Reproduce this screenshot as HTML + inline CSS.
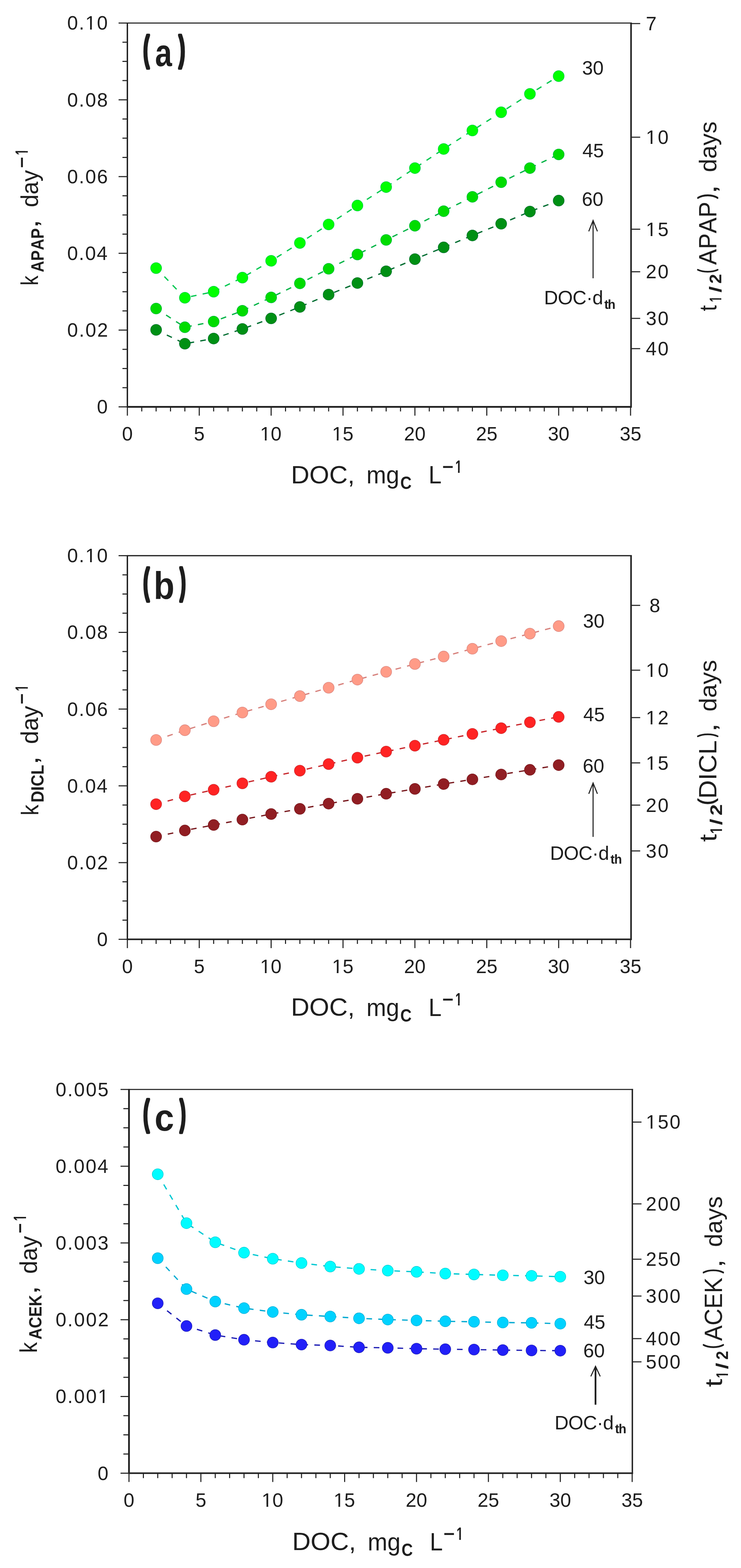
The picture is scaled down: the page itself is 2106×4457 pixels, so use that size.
<!DOCTYPE html>
<html><head><meta charset="utf-8"><title>DOC dependence of k and t1/2 for APAP, DICL, ACEK</title>
<style>
html,body{margin:0;padding:0;background:#fff;}
svg{display:block;}
text{font-family:'Liberation Sans', Arial, Helvetica, sans-serif;fill:#1e1e1e;font-kerning:none;}
</style></head>
<body>
<svg width="2106" height="4457" viewBox="0 0 2106 4457">
<rect width="2106" height="4457" fill="#fff"/>
<g id="panel-a">
<polyline points="443.7,762.1 525.4,846.4 607.2,829.1 688.9,789.2 770.6,741.4 852.3,690.6 934.0,638.0 1015.8,584.2 1097.5,531.8 1179.2,477.8 1260.9,423.5 1342.6,370.9 1424.4,319.1 1506.1,266.9 1587.8,216.4" fill="none" stroke="#00c850" stroke-width="3.6" stroke-dasharray="16 17.8"/>
<polyline points="443.7,877.0 525.4,930.2 607.2,914.0 688.9,883.4 770.6,845.4 852.3,805.5 934.0,764.0 1015.8,723.4 1097.5,682.0 1179.2,641.7 1260.9,600.3 1342.6,559.5 1424.4,518.0 1506.1,477.8 1587.8,439.0" fill="none" stroke="#00b446" stroke-width="3.6" stroke-dasharray="16 17.8"/>
<polyline points="443.7,937.6 525.4,977.0 607.2,962.3 688.9,935.1 770.6,905.0 852.3,872.5 934.0,837.4 1015.8,804.5 1097.5,771.1 1179.2,736.6 1260.9,703.2 1342.6,669.3 1424.4,636.0 1506.1,601.4 1587.8,570.2" fill="none" stroke="#006e32" stroke-width="3.6" stroke-dasharray="16 17.8"/>
<circle cx="443.7" cy="762.1" r="15.7" fill="#00ff00" stroke="#00c850" stroke-width="1.3"/>
<circle cx="525.4" cy="846.4" r="15.7" fill="#00ff00" stroke="#00c850" stroke-width="1.3"/>
<circle cx="607.2" cy="829.1" r="15.7" fill="#00ff00" stroke="#00c850" stroke-width="1.3"/>
<circle cx="688.9" cy="789.2" r="15.7" fill="#00ff00" stroke="#00c850" stroke-width="1.3"/>
<circle cx="770.6" cy="741.4" r="15.7" fill="#00ff00" stroke="#00c850" stroke-width="1.3"/>
<circle cx="852.3" cy="690.6" r="15.7" fill="#00ff00" stroke="#00c850" stroke-width="1.3"/>
<circle cx="934.0" cy="638.0" r="15.7" fill="#00ff00" stroke="#00c850" stroke-width="1.3"/>
<circle cx="1015.8" cy="584.2" r="15.7" fill="#00ff00" stroke="#00c850" stroke-width="1.3"/>
<circle cx="1097.5" cy="531.8" r="15.7" fill="#00ff00" stroke="#00c850" stroke-width="1.3"/>
<circle cx="1179.2" cy="477.8" r="15.7" fill="#00ff00" stroke="#00c850" stroke-width="1.3"/>
<circle cx="1260.9" cy="423.5" r="15.7" fill="#00ff00" stroke="#00c850" stroke-width="1.3"/>
<circle cx="1342.6" cy="370.9" r="15.7" fill="#00ff00" stroke="#00c850" stroke-width="1.3"/>
<circle cx="1424.4" cy="319.1" r="15.7" fill="#00ff00" stroke="#00c850" stroke-width="1.3"/>
<circle cx="1506.1" cy="266.9" r="15.7" fill="#00ff00" stroke="#00c850" stroke-width="1.3"/>
<circle cx="1587.8" cy="216.4" r="15.7" fill="#00ff00" stroke="#00c850" stroke-width="1.3"/>
<circle cx="443.7" cy="877.0" r="15.7" fill="#00dc00" stroke="#00b446" stroke-width="1.3"/>
<circle cx="525.4" cy="930.2" r="15.7" fill="#00dc00" stroke="#00b446" stroke-width="1.3"/>
<circle cx="607.2" cy="914.0" r="15.7" fill="#00dc00" stroke="#00b446" stroke-width="1.3"/>
<circle cx="688.9" cy="883.4" r="15.7" fill="#00dc00" stroke="#00b446" stroke-width="1.3"/>
<circle cx="770.6" cy="845.4" r="15.7" fill="#00dc00" stroke="#00b446" stroke-width="1.3"/>
<circle cx="852.3" cy="805.5" r="15.7" fill="#00dc00" stroke="#00b446" stroke-width="1.3"/>
<circle cx="934.0" cy="764.0" r="15.7" fill="#00dc00" stroke="#00b446" stroke-width="1.3"/>
<circle cx="1015.8" cy="723.4" r="15.7" fill="#00dc00" stroke="#00b446" stroke-width="1.3"/>
<circle cx="1097.5" cy="682.0" r="15.7" fill="#00dc00" stroke="#00b446" stroke-width="1.3"/>
<circle cx="1179.2" cy="641.7" r="15.7" fill="#00dc00" stroke="#00b446" stroke-width="1.3"/>
<circle cx="1260.9" cy="600.3" r="15.7" fill="#00dc00" stroke="#00b446" stroke-width="1.3"/>
<circle cx="1342.6" cy="559.5" r="15.7" fill="#00dc00" stroke="#00b446" stroke-width="1.3"/>
<circle cx="1424.4" cy="518.0" r="15.7" fill="#00dc00" stroke="#00b446" stroke-width="1.3"/>
<circle cx="1506.1" cy="477.8" r="15.7" fill="#00dc00" stroke="#00b446" stroke-width="1.3"/>
<circle cx="1587.8" cy="439.0" r="15.7" fill="#00dc00" stroke="#00b446" stroke-width="1.3"/>
<circle cx="443.7" cy="937.6" r="15.7" fill="#009014" stroke="#006e32" stroke-width="1.3"/>
<circle cx="525.4" cy="977.0" r="15.7" fill="#009014" stroke="#006e32" stroke-width="1.3"/>
<circle cx="607.2" cy="962.3" r="15.7" fill="#009014" stroke="#006e32" stroke-width="1.3"/>
<circle cx="688.9" cy="935.1" r="15.7" fill="#009014" stroke="#006e32" stroke-width="1.3"/>
<circle cx="770.6" cy="905.0" r="15.7" fill="#009014" stroke="#006e32" stroke-width="1.3"/>
<circle cx="852.3" cy="872.5" r="15.7" fill="#009014" stroke="#006e32" stroke-width="1.3"/>
<circle cx="934.0" cy="837.4" r="15.7" fill="#009014" stroke="#006e32" stroke-width="1.3"/>
<circle cx="1015.8" cy="804.5" r="15.7" fill="#009014" stroke="#006e32" stroke-width="1.3"/>
<circle cx="1097.5" cy="771.1" r="15.7" fill="#009014" stroke="#006e32" stroke-width="1.3"/>
<circle cx="1179.2" cy="736.6" r="15.7" fill="#009014" stroke="#006e32" stroke-width="1.3"/>
<circle cx="1260.9" cy="703.2" r="15.7" fill="#009014" stroke="#006e32" stroke-width="1.3"/>
<circle cx="1342.6" cy="669.3" r="15.7" fill="#009014" stroke="#006e32" stroke-width="1.3"/>
<circle cx="1424.4" cy="636.0" r="15.7" fill="#009014" stroke="#006e32" stroke-width="1.3"/>
<circle cx="1506.1" cy="601.4" r="15.7" fill="#009014" stroke="#006e32" stroke-width="1.3"/>
<circle cx="1587.8" cy="570.2" r="15.7" fill="#009014" stroke="#006e32" stroke-width="1.3"/>
<path d="M360.4,65.5H1795.5" stroke="#222" stroke-width="3.0" fill="none"/>
<path d="M362.0,64.0V1158.5" stroke="#222" stroke-width="4.0" fill="none"/>
<path d="M360.5,1156.5H1795.5" stroke="#222" stroke-width="5.0" fill="none"/>
<path d="M1793.5,64.0V1158.5" stroke="#222" stroke-width="4.5" fill="none"/>
<path d="M337.0,1156.5H362.0M348.0,1102.0H362.0M348.0,1047.4H362.0M348.0,992.9H362.0M337.0,938.3H362.0M348.0,883.8H362.0M348.0,829.2H362.0M348.0,774.6H362.0M337.0,720.1H362.0M348.0,665.5H362.0M348.0,611.0H362.0M348.0,556.5H362.0M337.0,501.9H362.0M348.0,447.4H362.0M348.0,392.8H362.0M348.0,338.2H362.0M337.0,283.7H362.0M348.0,229.1H362.0M348.0,174.6H362.0M348.0,120.0H362.0M337.0,65.5H362.0M362.0,1156.5V1181.5M402.9,1156.5V1169.5M443.7,1156.5V1169.5M484.6,1156.5V1169.5M525.4,1156.5V1169.5M566.3,1156.5V1181.5M607.2,1156.5V1169.5M648.0,1156.5V1169.5M688.9,1156.5V1169.5M729.7,1156.5V1169.5M770.6,1156.5V1181.5M811.5,1156.5V1169.5M852.3,1156.5V1169.5M893.2,1156.5V1169.5M934.0,1156.5V1169.5M974.9,1156.5V1181.5M1015.8,1156.5V1169.5M1056.6,1156.5V1169.5M1097.5,1156.5V1169.5M1138.3,1156.5V1169.5M1179.2,1156.5V1181.5M1220.1,1156.5V1169.5M1260.9,1156.5V1169.5M1301.8,1156.5V1169.5M1342.6,1156.5V1169.5M1383.5,1156.5V1181.5M1424.4,1156.5V1169.5M1465.2,1156.5V1169.5M1506.1,1156.5V1169.5M1546.9,1156.5V1169.5M1587.8,1156.5V1181.5M1628.7,1156.5V1169.5M1669.5,1156.5V1169.5M1710.4,1156.5V1169.5M1751.2,1156.5V1169.5M1792.1,1156.5V1181.5M1793.5,67H1819.5M1793.5,390H1819.5M1793.5,651.6H1819.5M1793.5,772.5H1819.5M1793.5,905H1819.5M1793.5,991H1819.5" stroke="#222" stroke-width="3.0" fill="none"/>
<text x="275.4" y="1175.4" font-size="55">0</text>
<text x="190.9" y="957.2" font-size="55" letter-spacing="2.96">0.02</text>
<text x="190.9" y="739.0" font-size="55" letter-spacing="2.57">0.04</text>
<text x="190.9" y="520.8" font-size="55" letter-spacing="2.84">0.06</text>
<text x="190.9" y="302.6" font-size="55" letter-spacing="2.83">0.08</text>
<text x="190.9" y="84.4" font-size="55" letter-spacing="2.75">0.10</text>
<text x="346.7" y="1252.0" font-size="55">0</text>
<text x="551.1" y="1252.0" font-size="55">5</text>
<text x="739.0" y="1252.0" font-size="55">10</text>
<text x="943.4" y="1252.0" font-size="55">15</text>
<text x="1148.3" y="1252.0" font-size="55">20</text>
<text x="1352.7" y="1252.0" font-size="55">25</text>
<text x="1557.2" y="1252.0" font-size="55">30</text>
<text x="1761.6" y="1252.0" font-size="55">35</text>
<text x="1835.5" y="85.9" font-size="55">7</text>
<text x="1835.5" y="408.9" font-size="55" letter-spacing="3.30">10</text>
<text x="1835.5" y="670.5" font-size="55" letter-spacing="3.30">15</text>
<text x="1835.5" y="791.4" font-size="55" letter-spacing="3.30">20</text>
<text x="1835.5" y="923.9" font-size="55" letter-spacing="3.30">30</text>
<text x="1835.5" y="1009.9" font-size="55" letter-spacing="3.30">40</text>
<text x="1654.4" y="211.9" font-size="55">30</text>
<text x="1655.2" y="446.9" font-size="55">45</text>
<text x="1653.7" y="584.9" font-size="55">60</text>
<path d="M1685.6,628.3V791.0" stroke="#222" stroke-width="3" fill="none"/>
<path d="M1673.3,657.6L1685.6,626.8L1697.9,657.6" stroke="#222" stroke-width="3" fill="none" stroke-linejoin="miter"/>
<text x="1546.3" y="865.1" font-size="55" letter-spacing="-0.77">DOC·d</text>
<text x="1717.6" y="878.3" font-size="36" font-weight="bold" letter-spacing="-2.31">th</text>
<text x="826.9" y="1373.7" font-size="70" textLength="181.3" lengthAdjust="spacingAndGlyphs">DOC,</text>
<text x="1041.5" y="1374.0" font-size="70" textLength="93.3" lengthAdjust="spacingAndGlyphs">mg</text>
<text x="1137.8" y="1390.0" font-size="50" font-weight="bold" textLength="32.1" lengthAdjust="spacingAndGlyphs">C</text>
<text x="1218.0" y="1374.0" font-size="70" textLength="37.0" lengthAdjust="spacingAndGlyphs">L</text>
<text x="1256.9" y="1344.0" font-size="50" font-weight="bold" textLength="31.9" lengthAdjust="spacingAndGlyphs">−</text>
<text x="1293.9" y="1344.0" font-size="50" font-weight="bold" textLength="18.6" lengthAdjust="spacingAndGlyphs">1</text>
<text transform="rotate(-90)" x="-811.5" y="107.9" font-size="68" textLength="28.1" lengthAdjust="spacingAndGlyphs">k</text>
<text transform="rotate(-90)" x="-773.9" y="123.8" font-size="50" font-weight="bold" textLength="125.1" lengthAdjust="spacingAndGlyphs">APAP</text>
<text transform="rotate(-90)" x="-649.0" y="107.9" font-size="68" textLength="25.5" lengthAdjust="spacingAndGlyphs">,</text>
<text transform="rotate(-90)" x="-589.1" y="107.6" font-size="68" textLength="105.7" lengthAdjust="spacingAndGlyphs">day</text>
<text transform="rotate(-90)" x="-477.5" y="79.3" font-size="50" font-weight="bold" textLength="31.6" lengthAdjust="spacingAndGlyphs">−</text>
<text transform="rotate(-90)" x="-440.6" y="79.3" font-size="50" font-weight="bold" textLength="16.7" lengthAdjust="spacingAndGlyphs">1</text>
<text transform="rotate(-90)" x="-884.4" y="2035.7" font-size="68" textLength="17.0" lengthAdjust="spacingAndGlyphs">t</text>
<text transform="rotate(-90)" x="-858.6" y="2050.1" font-size="48" font-weight="bold" textLength="16.3" lengthAdjust="spacingAndGlyphs">1</text>
<text transform="rotate(-90)" x="-831.5" y="2050.1" font-size="48" font-weight="bold" textLength="18.0" lengthAdjust="spacingAndGlyphs">/</text>
<text transform="rotate(-90)" x="-806.3" y="2050.1" font-size="48" font-weight="bold" textLength="27.5" lengthAdjust="spacingAndGlyphs">2</text>
<text transform="rotate(-90)" x="-753.0" y="2035.7" font-size="70" textLength="179.6" lengthAdjust="spacingAndGlyphs">APAP</text>
<text transform="rotate(-90)" x="-551.2" y="2035.7" font-size="70" textLength="26.3" lengthAdjust="spacingAndGlyphs">,</text>
<text transform="rotate(-90)" x="-489.2" y="2035.7" font-size="68" textLength="143.9" lengthAdjust="spacingAndGlyphs">days</text>
<text transform="translate(2027.42,775.66) rotate(-90) scale(0.3168,0.6076)" font-size="100" stroke="#1e1e1e" stroke-width="5.68" stroke-linejoin="round">(</text>
<text transform="translate(2027.44,564.74) rotate(-90) scale(0.4149,0.6121)" font-size="100" stroke="#1e1e1e" stroke-width="4.34" stroke-linejoin="round">)</text>
<text transform="translate(407.37,172.71) scale(0.5173,0.9983)" font-size="100" font-weight="bold" stroke="#1e1e1e" stroke-width="8.70" stroke-linejoin="round">(</text>
<text transform="translate(440.67,188.03) scale(0.8646,1.0915)" font-size="100" font-weight="bold">a</text>
<text transform="translate(507.90,172.77) scale(0.5386,1.0006)" font-size="100" font-weight="bold" stroke="#1e1e1e" stroke-width="8.36" stroke-linejoin="round">)</text>
</g>
<g id="panel-b">
<polyline points="443.7,2103.4 525.4,2075.7 607.2,2050.1 688.9,2025.4 770.6,2001.8 852.3,1978.6 934.0,1954.9 1015.8,1931.8 1097.5,1909.6 1179.2,1887.4 1260.9,1866.2 1342.6,1844.0 1424.4,1822.3 1506.1,1801.1 1587.8,1779.7" fill="none" stroke="#d7827d" stroke-width="3.6" stroke-dasharray="16 17.8"/>
<polyline points="443.7,2285.8 525.4,2263.6 607.2,2244.9 688.9,2226.6 770.6,2207.9 852.3,2190.6 934.0,2171.9 1015.8,2153.6 1097.5,2136.4 1179.2,2119.6 1260.9,2102.9 1342.6,2086.1 1424.4,2069.8 1506.1,2053.1 1587.8,2037.7" fill="none" stroke="#c8282d" stroke-width="3.6" stroke-dasharray="16 17.8"/>
<polyline points="443.7,2378.0 525.4,2360.7 607.2,2345.0 688.9,2329.7 770.6,2313.9 852.3,2299.1 934.0,2284.3 1015.8,2270.5 1097.5,2256.2 1179.2,2242.4 1260.9,2228.6 1342.6,2215.3 1424.4,2201.5 1506.1,2188.2 1587.8,2174.8" fill="none" stroke="#78191e" stroke-width="3.6" stroke-dasharray="16 17.8"/>
<circle cx="443.7" cy="2103.4" r="15.7" fill="#ff9b87" stroke="#d7827d" stroke-width="1.3"/>
<circle cx="525.4" cy="2075.7" r="15.7" fill="#ff9b87" stroke="#d7827d" stroke-width="1.3"/>
<circle cx="607.2" cy="2050.1" r="15.7" fill="#ff9b87" stroke="#d7827d" stroke-width="1.3"/>
<circle cx="688.9" cy="2025.4" r="15.7" fill="#ff9b87" stroke="#d7827d" stroke-width="1.3"/>
<circle cx="770.6" cy="2001.8" r="15.7" fill="#ff9b87" stroke="#d7827d" stroke-width="1.3"/>
<circle cx="852.3" cy="1978.6" r="15.7" fill="#ff9b87" stroke="#d7827d" stroke-width="1.3"/>
<circle cx="934.0" cy="1954.9" r="15.7" fill="#ff9b87" stroke="#d7827d" stroke-width="1.3"/>
<circle cx="1015.8" cy="1931.8" r="15.7" fill="#ff9b87" stroke="#d7827d" stroke-width="1.3"/>
<circle cx="1097.5" cy="1909.6" r="15.7" fill="#ff9b87" stroke="#d7827d" stroke-width="1.3"/>
<circle cx="1179.2" cy="1887.4" r="15.7" fill="#ff9b87" stroke="#d7827d" stroke-width="1.3"/>
<circle cx="1260.9" cy="1866.2" r="15.7" fill="#ff9b87" stroke="#d7827d" stroke-width="1.3"/>
<circle cx="1342.6" cy="1844.0" r="15.7" fill="#ff9b87" stroke="#d7827d" stroke-width="1.3"/>
<circle cx="1424.4" cy="1822.3" r="15.7" fill="#ff9b87" stroke="#d7827d" stroke-width="1.3"/>
<circle cx="1506.1" cy="1801.1" r="15.7" fill="#ff9b87" stroke="#d7827d" stroke-width="1.3"/>
<circle cx="1587.8" cy="1779.7" r="15.7" fill="#ff9b87" stroke="#d7827d" stroke-width="1.3"/>
<circle cx="443.7" cy="2285.8" r="15.7" fill="#ff2323" stroke="#c8282d" stroke-width="1.3"/>
<circle cx="525.4" cy="2263.6" r="15.7" fill="#ff2323" stroke="#c8282d" stroke-width="1.3"/>
<circle cx="607.2" cy="2244.9" r="15.7" fill="#ff2323" stroke="#c8282d" stroke-width="1.3"/>
<circle cx="688.9" cy="2226.6" r="15.7" fill="#ff2323" stroke="#c8282d" stroke-width="1.3"/>
<circle cx="770.6" cy="2207.9" r="15.7" fill="#ff2323" stroke="#c8282d" stroke-width="1.3"/>
<circle cx="852.3" cy="2190.6" r="15.7" fill="#ff2323" stroke="#c8282d" stroke-width="1.3"/>
<circle cx="934.0" cy="2171.9" r="15.7" fill="#ff2323" stroke="#c8282d" stroke-width="1.3"/>
<circle cx="1015.8" cy="2153.6" r="15.7" fill="#ff2323" stroke="#c8282d" stroke-width="1.3"/>
<circle cx="1097.5" cy="2136.4" r="15.7" fill="#ff2323" stroke="#c8282d" stroke-width="1.3"/>
<circle cx="1179.2" cy="2119.6" r="15.7" fill="#ff2323" stroke="#c8282d" stroke-width="1.3"/>
<circle cx="1260.9" cy="2102.9" r="15.7" fill="#ff2323" stroke="#c8282d" stroke-width="1.3"/>
<circle cx="1342.6" cy="2086.1" r="15.7" fill="#ff2323" stroke="#c8282d" stroke-width="1.3"/>
<circle cx="1424.4" cy="2069.8" r="15.7" fill="#ff2323" stroke="#c8282d" stroke-width="1.3"/>
<circle cx="1506.1" cy="2053.1" r="15.7" fill="#ff2323" stroke="#c8282d" stroke-width="1.3"/>
<circle cx="1587.8" cy="2037.7" r="15.7" fill="#ff2323" stroke="#c8282d" stroke-width="1.3"/>
<circle cx="443.7" cy="2378.0" r="15.7" fill="#911e23" stroke="#78191e" stroke-width="1.3"/>
<circle cx="525.4" cy="2360.7" r="15.7" fill="#911e23" stroke="#78191e" stroke-width="1.3"/>
<circle cx="607.2" cy="2345.0" r="15.7" fill="#911e23" stroke="#78191e" stroke-width="1.3"/>
<circle cx="688.9" cy="2329.7" r="15.7" fill="#911e23" stroke="#78191e" stroke-width="1.3"/>
<circle cx="770.6" cy="2313.9" r="15.7" fill="#911e23" stroke="#78191e" stroke-width="1.3"/>
<circle cx="852.3" cy="2299.1" r="15.7" fill="#911e23" stroke="#78191e" stroke-width="1.3"/>
<circle cx="934.0" cy="2284.3" r="15.7" fill="#911e23" stroke="#78191e" stroke-width="1.3"/>
<circle cx="1015.8" cy="2270.5" r="15.7" fill="#911e23" stroke="#78191e" stroke-width="1.3"/>
<circle cx="1097.5" cy="2256.2" r="15.7" fill="#911e23" stroke="#78191e" stroke-width="1.3"/>
<circle cx="1179.2" cy="2242.4" r="15.7" fill="#911e23" stroke="#78191e" stroke-width="1.3"/>
<circle cx="1260.9" cy="2228.6" r="15.7" fill="#911e23" stroke="#78191e" stroke-width="1.3"/>
<circle cx="1342.6" cy="2215.3" r="15.7" fill="#911e23" stroke="#78191e" stroke-width="1.3"/>
<circle cx="1424.4" cy="2201.5" r="15.7" fill="#911e23" stroke="#78191e" stroke-width="1.3"/>
<circle cx="1506.1" cy="2188.2" r="15.7" fill="#911e23" stroke="#78191e" stroke-width="1.3"/>
<circle cx="1587.8" cy="2174.8" r="15.7" fill="#911e23" stroke="#78191e" stroke-width="1.3"/>
<path d="M360.4,1579.4H1795.5" stroke="#222" stroke-width="3.5" fill="none"/>
<path d="M362.0,1577.9V2672.0" stroke="#222" stroke-width="4.0" fill="none"/>
<path d="M360.5,2670.0H1795.5" stroke="#222" stroke-width="4.5" fill="none"/>
<path d="M1793.5,1577.9V2672.0" stroke="#222" stroke-width="4.5" fill="none"/>
<path d="M337.0,2670.0H362.0M348.0,2615.5H362.0M348.0,2560.9H362.0M348.0,2506.4H362.0M337.0,2451.9H362.0M348.0,2397.3H362.0M348.0,2342.8H362.0M348.0,2288.3H362.0M337.0,2233.8H362.0M348.0,2179.2H362.0M348.0,2124.7H362.0M348.0,2070.2H362.0M337.0,2015.6H362.0M348.0,1961.1H362.0M348.0,1906.6H362.0M348.0,1852.1H362.0M337.0,1797.5H362.0M348.0,1743.0H362.0M348.0,1688.5H362.0M348.0,1633.9H362.0M337.0,1579.4H362.0M362.0,2670.0V2695.0M402.9,2670.0V2683.0M443.7,2670.0V2683.0M484.6,2670.0V2683.0M525.4,2670.0V2683.0M566.3,2670.0V2695.0M607.2,2670.0V2683.0M648.0,2670.0V2683.0M688.9,2670.0V2683.0M729.7,2670.0V2683.0M770.6,2670.0V2695.0M811.5,2670.0V2683.0M852.3,2670.0V2683.0M893.2,2670.0V2683.0M934.0,2670.0V2683.0M974.9,2670.0V2695.0M1015.8,2670.0V2683.0M1056.6,2670.0V2683.0M1097.5,2670.0V2683.0M1138.3,2670.0V2683.0M1179.2,2670.0V2695.0M1220.1,2670.0V2683.0M1260.9,2670.0V2683.0M1301.8,2670.0V2683.0M1342.6,2670.0V2683.0M1383.5,2670.0V2695.0M1424.4,2670.0V2683.0M1465.2,2670.0V2683.0M1506.1,2670.0V2683.0M1546.9,2670.0V2683.0M1587.8,2670.0V2695.0M1628.7,2670.0V2683.0M1669.5,2670.0V2683.0M1710.4,2670.0V2683.0M1751.2,2670.0V2683.0M1792.1,2670.0V2695.0M1793.5,1720.7H1819.5M1793.5,1904.9H1819.5M1793.5,2039.7H1819.5M1793.5,2168.6H1819.5M1793.5,2288.6H1819.5M1793.5,2418.8H1819.5" stroke="#222" stroke-width="3.0" fill="none"/>
<text x="275.4" y="2688.9" font-size="55">0</text>
<text x="190.9" y="2470.8" font-size="55" letter-spacing="2.96">0.02</text>
<text x="190.9" y="2252.7" font-size="55" letter-spacing="2.57">0.04</text>
<text x="190.9" y="2034.5" font-size="55" letter-spacing="2.84">0.06</text>
<text x="190.9" y="1816.4" font-size="55" letter-spacing="2.83">0.08</text>
<text x="190.9" y="1598.3" font-size="55" letter-spacing="2.75">0.10</text>
<text x="346.7" y="2765.5" font-size="55">0</text>
<text x="551.1" y="2765.5" font-size="55">5</text>
<text x="739.0" y="2765.5" font-size="55">10</text>
<text x="943.4" y="2765.5" font-size="55">15</text>
<text x="1148.3" y="2765.5" font-size="55">20</text>
<text x="1352.7" y="2765.5" font-size="55">25</text>
<text x="1557.2" y="2765.5" font-size="55">30</text>
<text x="1761.6" y="2765.5" font-size="55">35</text>
<text x="1845.8" y="1739.6" font-size="55">8</text>
<text x="1835.5" y="1923.8" font-size="55" letter-spacing="3.30">10</text>
<text x="1835.5" y="2058.6" font-size="55" letter-spacing="3.30">12</text>
<text x="1835.5" y="2187.5" font-size="55" letter-spacing="3.30">15</text>
<text x="1835.5" y="2307.5" font-size="55" letter-spacing="3.30">20</text>
<text x="1835.5" y="2437.7" font-size="55" letter-spacing="3.30">30</text>
<text x="1656.9" y="1783.9" font-size="55">30</text>
<text x="1657.7" y="2050.3" font-size="55">45</text>
<text x="1656.2" y="2195.9" font-size="55">60</text>
<path d="M1685.6,2227.3V2378.8" stroke="#222" stroke-width="3" fill="none"/>
<path d="M1673.3,2256.4L1685.6,2225.8L1697.9,2256.4" stroke="#222" stroke-width="3" fill="none" stroke-linejoin="miter"/>
<text x="1563.2" y="2444.2" font-size="55" letter-spacing="-0.77">DOC·d</text>
<text x="1735.1" y="2455.4" font-size="36" font-weight="bold" letter-spacing="-1.21">th</text>
<text x="826.9" y="2887.2" font-size="70" textLength="181.3" lengthAdjust="spacingAndGlyphs">DOC,</text>
<text x="1041.5" y="2887.5" font-size="70" textLength="93.3" lengthAdjust="spacingAndGlyphs">mg</text>
<text x="1137.8" y="2903.5" font-size="50" font-weight="bold" textLength="32.1" lengthAdjust="spacingAndGlyphs">C</text>
<text x="1218.0" y="2887.5" font-size="70" textLength="37.0" lengthAdjust="spacingAndGlyphs">L</text>
<text x="1256.9" y="2857.5" font-size="50" font-weight="bold" textLength="31.9" lengthAdjust="spacingAndGlyphs">−</text>
<text x="1293.9" y="2857.5" font-size="50" font-weight="bold" textLength="18.6" lengthAdjust="spacingAndGlyphs">1</text>
<text transform="rotate(-90)" x="-2318.0" y="109.4" font-size="68" textLength="30.8" lengthAdjust="spacingAndGlyphs">k</text>
<text transform="rotate(-90)" x="-2280.9" y="123.8" font-size="50" font-weight="bold" textLength="106.8" lengthAdjust="spacingAndGlyphs">DICL</text>
<text transform="rotate(-90)" x="-2174.3" y="107.9" font-size="68" textLength="25.5" lengthAdjust="spacingAndGlyphs">,</text>
<text transform="rotate(-90)" x="-2114.8" y="107.6" font-size="68" textLength="108.6" lengthAdjust="spacingAndGlyphs">day</text>
<text transform="rotate(-90)" x="-2002.0" y="79.3" font-size="50" font-weight="bold" textLength="31.1" lengthAdjust="spacingAndGlyphs">−</text>
<text transform="rotate(-90)" x="-1964.3" y="79.3" font-size="50" font-weight="bold" textLength="16.7" lengthAdjust="spacingAndGlyphs">1</text>
<text transform="rotate(-90)" x="-2392.9" y="2035.9" font-size="68" textLength="22.0" lengthAdjust="spacingAndGlyphs">t</text>
<text transform="rotate(-90)" x="-2369.9" y="2052.3" font-size="48" font-weight="bold" textLength="19.6" lengthAdjust="spacingAndGlyphs">1</text>
<text transform="rotate(-90)" x="-2345.3" y="2052.3" font-size="48" font-weight="bold" textLength="18.0" lengthAdjust="spacingAndGlyphs">/</text>
<text transform="rotate(-90)" x="-2318.0" y="2052.3" font-size="48" font-weight="bold" textLength="32.0" lengthAdjust="spacingAndGlyphs">2</text>
<text transform="rotate(-90)" x="-2270.3" y="2035.9" font-size="70" textLength="166.1" lengthAdjust="spacingAndGlyphs">DICL</text>
<text transform="rotate(-90)" x="-2081.2" y="2035.9" font-size="70" textLength="26.3" lengthAdjust="spacingAndGlyphs">,</text>
<text transform="rotate(-90)" x="-2022.4" y="2035.9" font-size="68" textLength="146.7" lengthAdjust="spacingAndGlyphs">days</text>
<text transform="translate(2027.21,2288.21) rotate(-90) scale(0.5507,0.6166)" font-size="100" stroke="#1e1e1e" stroke-width="3.27" stroke-linejoin="round">(</text>
<text transform="translate(2026.89,2094.48) rotate(-90) scale(0.3130,0.6042)" font-size="100" stroke="#1e1e1e" stroke-width="5.75" stroke-linejoin="round">)</text>
<text transform="translate(407.37,1688.45) scale(0.5173,1.0212)" font-size="100" font-weight="bold" stroke="#1e1e1e" stroke-width="8.70" stroke-linejoin="round">(</text>
<text transform="translate(436.83,1701.73) scale(0.9664,1.1003)" font-size="100" font-weight="bold">b</text>
<text transform="translate(511.20,1688.38) scale(0.4925,1.0182)" font-size="100" font-weight="bold" stroke="#1e1e1e" stroke-width="9.14" stroke-linejoin="round">)</text>
</g>
<g id="panel-c">
<polyline points="448.3,3337.8 530.0,3476.8 611.8,3531.1 693.5,3560.7 775.2,3577.9 856.9,3590.2 938.6,3600.1 1020.4,3606.8 1102.1,3611.7 1183.8,3615.2 1265.5,3620.1 1347.2,3622.6 1429.0,3625.0 1510.7,3626.5 1592.4,3629.0" fill="none" stroke="#00c8d2" stroke-width="3.6" stroke-dasharray="16 17.8"/>
<polyline points="448.3,3576.4 530.0,3664.2 611.8,3699.7 693.5,3718.4 775.2,3729.3 856.9,3737.2 938.6,3742.1 1020.4,3747.3 1102.1,3750.8 1183.8,3753.3 1265.5,3755.7 1347.2,3757.2 1429.0,3759.2 1510.7,3760.2 1592.4,3762.5" fill="none" stroke="#00aad2" stroke-width="3.6" stroke-dasharray="16 17.8"/>
<polyline points="448.3,3704.6 530.0,3769.2 611.8,3794.9 693.5,3808.2 775.2,3816.1 856.9,3822.0 938.6,3824.5 1020.4,3829.7 1102.1,3831.2 1183.8,3833.6 1265.5,3835.1 1347.2,3836.1 1429.0,3837.6 1510.7,3838.6 1592.4,3839.3" fill="none" stroke="#1e1eb4" stroke-width="3.6" stroke-dasharray="16 17.8"/>
<circle cx="448.3" cy="3337.8" r="15.7" fill="#00fcff" stroke="#00c8d2" stroke-width="1.3"/>
<circle cx="530.0" cy="3476.8" r="15.7" fill="#00fcff" stroke="#00c8d2" stroke-width="1.3"/>
<circle cx="611.8" cy="3531.1" r="15.7" fill="#00fcff" stroke="#00c8d2" stroke-width="1.3"/>
<circle cx="693.5" cy="3560.7" r="15.7" fill="#00fcff" stroke="#00c8d2" stroke-width="1.3"/>
<circle cx="775.2" cy="3577.9" r="15.7" fill="#00fcff" stroke="#00c8d2" stroke-width="1.3"/>
<circle cx="856.9" cy="3590.2" r="15.7" fill="#00fcff" stroke="#00c8d2" stroke-width="1.3"/>
<circle cx="938.6" cy="3600.1" r="15.7" fill="#00fcff" stroke="#00c8d2" stroke-width="1.3"/>
<circle cx="1020.4" cy="3606.8" r="15.7" fill="#00fcff" stroke="#00c8d2" stroke-width="1.3"/>
<circle cx="1102.1" cy="3611.7" r="15.7" fill="#00fcff" stroke="#00c8d2" stroke-width="1.3"/>
<circle cx="1183.8" cy="3615.2" r="15.7" fill="#00fcff" stroke="#00c8d2" stroke-width="1.3"/>
<circle cx="1265.5" cy="3620.1" r="15.7" fill="#00fcff" stroke="#00c8d2" stroke-width="1.3"/>
<circle cx="1347.2" cy="3622.6" r="15.7" fill="#00fcff" stroke="#00c8d2" stroke-width="1.3"/>
<circle cx="1429.0" cy="3625.0" r="15.7" fill="#00fcff" stroke="#00c8d2" stroke-width="1.3"/>
<circle cx="1510.7" cy="3626.5" r="15.7" fill="#00fcff" stroke="#00c8d2" stroke-width="1.3"/>
<circle cx="1592.4" cy="3629.0" r="15.7" fill="#00fcff" stroke="#00c8d2" stroke-width="1.3"/>
<circle cx="448.3" cy="3576.4" r="15.7" fill="#00d2ff" stroke="#00aad2" stroke-width="1.3"/>
<circle cx="530.0" cy="3664.2" r="15.7" fill="#00d2ff" stroke="#00aad2" stroke-width="1.3"/>
<circle cx="611.8" cy="3699.7" r="15.7" fill="#00d2ff" stroke="#00aad2" stroke-width="1.3"/>
<circle cx="693.5" cy="3718.4" r="15.7" fill="#00d2ff" stroke="#00aad2" stroke-width="1.3"/>
<circle cx="775.2" cy="3729.3" r="15.7" fill="#00d2ff" stroke="#00aad2" stroke-width="1.3"/>
<circle cx="856.9" cy="3737.2" r="15.7" fill="#00d2ff" stroke="#00aad2" stroke-width="1.3"/>
<circle cx="938.6" cy="3742.1" r="15.7" fill="#00d2ff" stroke="#00aad2" stroke-width="1.3"/>
<circle cx="1020.4" cy="3747.3" r="15.7" fill="#00d2ff" stroke="#00aad2" stroke-width="1.3"/>
<circle cx="1102.1" cy="3750.8" r="15.7" fill="#00d2ff" stroke="#00aad2" stroke-width="1.3"/>
<circle cx="1183.8" cy="3753.3" r="15.7" fill="#00d2ff" stroke="#00aad2" stroke-width="1.3"/>
<circle cx="1265.5" cy="3755.7" r="15.7" fill="#00d2ff" stroke="#00aad2" stroke-width="1.3"/>
<circle cx="1347.2" cy="3757.2" r="15.7" fill="#00d2ff" stroke="#00aad2" stroke-width="1.3"/>
<circle cx="1429.0" cy="3759.2" r="15.7" fill="#00d2ff" stroke="#00aad2" stroke-width="1.3"/>
<circle cx="1510.7" cy="3760.2" r="15.7" fill="#00d2ff" stroke="#00aad2" stroke-width="1.3"/>
<circle cx="1592.4" cy="3762.5" r="15.7" fill="#00d2ff" stroke="#00aad2" stroke-width="1.3"/>
<circle cx="448.3" cy="3704.6" r="15.7" fill="#2220f8" stroke="#1e1eb4" stroke-width="1.3"/>
<circle cx="530.0" cy="3769.2" r="15.7" fill="#2220f8" stroke="#1e1eb4" stroke-width="1.3"/>
<circle cx="611.8" cy="3794.9" r="15.7" fill="#2220f8" stroke="#1e1eb4" stroke-width="1.3"/>
<circle cx="693.5" cy="3808.2" r="15.7" fill="#2220f8" stroke="#1e1eb4" stroke-width="1.3"/>
<circle cx="775.2" cy="3816.1" r="15.7" fill="#2220f8" stroke="#1e1eb4" stroke-width="1.3"/>
<circle cx="856.9" cy="3822.0" r="15.7" fill="#2220f8" stroke="#1e1eb4" stroke-width="1.3"/>
<circle cx="938.6" cy="3824.5" r="15.7" fill="#2220f8" stroke="#1e1eb4" stroke-width="1.3"/>
<circle cx="1020.4" cy="3829.7" r="15.7" fill="#2220f8" stroke="#1e1eb4" stroke-width="1.3"/>
<circle cx="1102.1" cy="3831.2" r="15.7" fill="#2220f8" stroke="#1e1eb4" stroke-width="1.3"/>
<circle cx="1183.8" cy="3833.6" r="15.7" fill="#2220f8" stroke="#1e1eb4" stroke-width="1.3"/>
<circle cx="1265.5" cy="3835.1" r="15.7" fill="#2220f8" stroke="#1e1eb4" stroke-width="1.3"/>
<circle cx="1347.2" cy="3836.1" r="15.7" fill="#2220f8" stroke="#1e1eb4" stroke-width="1.3"/>
<circle cx="1429.0" cy="3837.6" r="15.7" fill="#2220f8" stroke="#1e1eb4" stroke-width="1.3"/>
<circle cx="1510.7" cy="3838.6" r="15.7" fill="#2220f8" stroke="#1e1eb4" stroke-width="1.3"/>
<circle cx="1592.4" cy="3839.3" r="15.7" fill="#2220f8" stroke="#1e1eb4" stroke-width="1.3"/>
<path d="M365.0,3096.7H1799.2" stroke="#222" stroke-width="3.0" fill="none"/>
<path d="M366.6,3095.2V4189.6" stroke="#222" stroke-width="5.0" fill="none"/>
<path d="M365.1,4187.6H1799.2" stroke="#222" stroke-width="4.5" fill="none"/>
<path d="M1797.2,3095.2V4189.6" stroke="#222" stroke-width="4.0" fill="none"/>
<path d="M342.6,4187.6H366.6M350.6,4133.1H366.6M350.6,4078.5H366.6M350.6,4024.0H366.6M342.6,3969.4H366.6M350.6,3914.9H366.6M350.6,3860.3H366.6M350.6,3805.8H366.6M342.6,3751.2H366.6M350.6,3696.7H366.6M350.6,3642.2H366.6M350.6,3587.6H366.6M342.6,3533.1H366.6M350.6,3478.5H366.6M350.6,3424.0H366.6M350.6,3369.4H366.6M342.6,3314.9H366.6M350.6,3260.3H366.6M350.6,3205.8H366.6M350.6,3151.2H366.6M342.6,3096.7H366.6M366.6,4187.6V4212.6M407.5,4187.6V4201.6M448.3,4187.6V4201.6M489.2,4187.6V4201.6M530.0,4187.6V4201.6M570.9,4187.6V4212.6M611.8,4187.6V4201.6M652.6,4187.6V4201.6M693.5,4187.6V4201.6M734.3,4187.6V4201.6M775.2,4187.6V4212.6M816.1,4187.6V4201.6M856.9,4187.6V4201.6M897.8,4187.6V4201.6M938.6,4187.6V4201.6M979.5,4187.6V4212.6M1020.4,4187.6V4201.6M1061.2,4187.6V4201.6M1102.1,4187.6V4201.6M1142.9,4187.6V4201.6M1183.8,4187.6V4212.6M1224.7,4187.6V4201.6M1265.5,4187.6V4201.6M1306.4,4187.6V4201.6M1347.2,4187.6V4201.6M1388.1,4187.6V4212.6M1429.0,4187.6V4201.6M1469.8,4187.6V4201.6M1510.7,4187.6V4201.6M1551.5,4187.6V4201.6M1592.4,4187.6V4212.6M1633.3,4187.6V4201.6M1674.1,4187.6V4201.6M1715.0,4187.6V4201.6M1755.8,4187.6V4201.6M1796.7,4187.6V4212.6M1797.2,3189.5H1823.2M1797.2,3422H1823.2M1797.2,3579.3H1823.2M1797.2,3684H1823.2M1797.2,3804.9H1823.2M1797.2,3870.9H1823.2" stroke="#222" stroke-width="3.0" fill="none"/>
<text x="277.4" y="4206.5" font-size="55">0</text>
<text x="157.9" y="3988.3" font-size="55" letter-spacing="3.30">0.001</text>
<text x="157.9" y="3770.1" font-size="55" letter-spacing="3.32">0.002</text>
<text x="157.9" y="3552.0" font-size="55" letter-spacing="3.23">0.003</text>
<text x="157.9" y="3333.8" font-size="55" letter-spacing="3.03">0.004</text>
<text x="157.9" y="3115.6" font-size="55" letter-spacing="3.21">0.005</text>
<text x="351.3" y="4283.1" font-size="55">0</text>
<text x="555.7" y="4283.1" font-size="55">5</text>
<text x="743.6" y="4283.1" font-size="55">10</text>
<text x="948.0" y="4283.1" font-size="55">15</text>
<text x="1152.9" y="4283.1" font-size="55">20</text>
<text x="1357.3" y="4283.1" font-size="55">25</text>
<text x="1561.8" y="4283.1" font-size="55">30</text>
<text x="1766.2" y="4283.1" font-size="55">35</text>
<text x="1835.5" y="3208.4" font-size="55" letter-spacing="3.30">150</text>
<text x="1835.5" y="3440.9" font-size="55" letter-spacing="3.30">200</text>
<text x="1835.5" y="3598.2" font-size="55" letter-spacing="3.30">250</text>
<text x="1835.5" y="3702.9" font-size="55" letter-spacing="3.30">300</text>
<text x="1835.5" y="3823.8" font-size="55" letter-spacing="3.30">400</text>
<text x="1835.5" y="3889.8" font-size="55" letter-spacing="3.30">500</text>
<text x="1658.4" y="3649.6" font-size="55">30</text>
<text x="1659.2" y="3777.3" font-size="55">45</text>
<text x="1657.7" y="3858.4" font-size="55">60</text>
<path d="M1692.5,3885.3V3992.8" stroke="#222" stroke-width="5" fill="none"/>
<path d="M1679.1,3912.4L1692.5,3883.8L1705.9,3912.4" stroke="#222" stroke-width="3" fill="none" stroke-linejoin="miter"/>
<text x="1576.3" y="4062.8" font-size="55" letter-spacing="-0.77">DOC·d</text>
<text x="1748.1" y="4073.6" font-size="36" font-weight="bold" letter-spacing="-1.91">th</text>
<text x="830.4" y="4406.3" font-size="70" textLength="181.3" lengthAdjust="spacingAndGlyphs">DOC,</text>
<text x="1045.0" y="4406.6" font-size="70" textLength="93.3" lengthAdjust="spacingAndGlyphs">mg</text>
<text x="1141.3" y="4422.6" font-size="50" font-weight="bold" textLength="32.1" lengthAdjust="spacingAndGlyphs">C</text>
<text x="1221.5" y="4406.6" font-size="70" textLength="37.0" lengthAdjust="spacingAndGlyphs">L</text>
<text x="1260.4" y="4376.6" font-size="50" font-weight="bold" textLength="31.9" lengthAdjust="spacingAndGlyphs">−</text>
<text x="1297.4" y="4376.6" font-size="50" font-weight="bold" textLength="18.6" lengthAdjust="spacingAndGlyphs">1</text>
<text transform="rotate(-90)" x="-3845.5" y="104.5" font-size="68" textLength="30.3" lengthAdjust="spacingAndGlyphs">k</text>
<text transform="rotate(-90)" x="-3807.5" y="118.0" font-size="50" font-weight="bold" textLength="126.7" lengthAdjust="spacingAndGlyphs">ACEK</text>
<text transform="rotate(-90)" x="-3679.8" y="104.5" font-size="68" textLength="25.5" lengthAdjust="spacingAndGlyphs">,</text>
<text transform="rotate(-90)" x="-3620.8" y="104.5" font-size="68" textLength="107.7" lengthAdjust="spacingAndGlyphs">day</text>
<text transform="rotate(-90)" x="-3505.5" y="74.4" font-size="50" font-weight="bold" textLength="28.5" lengthAdjust="spacingAndGlyphs">−</text>
<text transform="rotate(-90)" x="-3470.2" y="74.4" font-size="50" font-weight="bold" textLength="16.7" lengthAdjust="spacingAndGlyphs">1</text>
<text transform="rotate(-90)" x="-3942.7" y="2052.3" font-size="68" textLength="23.3" lengthAdjust="spacingAndGlyphs">t</text>
<text transform="rotate(-90)" x="-3917.1" y="2068.7" font-size="48" font-weight="bold" textLength="18.2" lengthAdjust="spacingAndGlyphs">1</text>
<text transform="rotate(-90)" x="-3891.8" y="2068.7" font-size="48" font-weight="bold" textLength="18.0" lengthAdjust="spacingAndGlyphs">/</text>
<text transform="rotate(-90)" x="-3864.7" y="2068.7" font-size="48" font-weight="bold" textLength="24.7" lengthAdjust="spacingAndGlyphs">2</text>
<text transform="rotate(-90)" x="-3811.6" y="2052.3" font-size="70" textLength="180.1" lengthAdjust="spacingAndGlyphs">ACEK</text>
<text transform="rotate(-90)" x="-3603.8" y="2052.3" font-size="70" textLength="24.9" lengthAdjust="spacingAndGlyphs">,</text>
<text transform="rotate(-90)" x="-3544.4" y="2052.3" font-size="68" textLength="144.1" lengthAdjust="spacingAndGlyphs">days</text>
<text transform="translate(2043.38,3833.05) rotate(-90) scale(0.3621,0.6079)" font-size="100" stroke="#1e1e1e" stroke-width="4.97" stroke-linejoin="round">(</text>
<text transform="translate(2043.38,3619.01) rotate(-90) scale(0.3583,0.6077)" font-size="100" stroke="#1e1e1e" stroke-width="5.02" stroke-linejoin="round">)</text>
<text transform="translate(407.37,3198.49) scale(0.5173,0.9993)" font-size="100" font-weight="bold" stroke="#1e1e1e" stroke-width="8.70" stroke-linejoin="round">(</text>
<text transform="translate(439.30,3213.74) scale(0.9984,1.0842)" font-size="100" font-weight="bold">c</text>
<text transform="translate(511.20,3198.41) scale(0.4925,0.9964)" font-size="100" font-weight="bold" stroke="#1e1e1e" stroke-width="9.14" stroke-linejoin="round">)</text>
</g>
<rect x="245.20" y="78.78" width="10.82" height="6.83" fill="#fff"/>
<rect x="260.92" y="78.78" width="10.38" height="6.83" fill="#fff"/>
<rect x="741.97" y="1246.38" width="10.82" height="6.83" fill="#fff"/>
<rect x="757.69" y="1246.38" width="10.38" height="6.83" fill="#fff"/>
<rect x="946.35" y="1246.38" width="10.82" height="6.83" fill="#fff"/>
<rect x="962.07" y="1246.38" width="10.38" height="6.83" fill="#fff"/>
<rect x="1838.48" y="403.27" width="10.82" height="6.83" fill="#fff"/>
<rect x="1854.20" y="403.27" width="10.38" height="6.83" fill="#fff"/>
<rect x="1838.48" y="664.88" width="10.82" height="6.83" fill="#fff"/>
<rect x="1854.20" y="664.88" width="10.38" height="6.83" fill="#fff"/>
<rect x="1294.80" y="1337.40" width="6.90" height="7.80" fill="#fff"/>
<rect x="1306.33" y="1337.40" width="6.46" height="7.80" fill="#fff"/>
<rect x="72.70" y="433.58" width="7.80" height="6.30" fill="#fff"/>
<rect x="72.70" y="423.53" width="7.80" height="5.91" fill="#fff"/>
<rect x="2043.70" y="851.83" width="7.60" height="6.17" fill="#fff"/>
<rect x="2043.70" y="842.01" width="7.60" height="5.79" fill="#fff"/>
<rect x="245.20" y="1592.68" width="10.82" height="6.83" fill="#fff"/>
<rect x="260.92" y="1592.68" width="10.38" height="6.83" fill="#fff"/>
<rect x="741.97" y="2759.88" width="10.82" height="6.83" fill="#fff"/>
<rect x="757.69" y="2759.88" width="10.38" height="6.83" fill="#fff"/>
<rect x="946.35" y="2759.88" width="10.82" height="6.83" fill="#fff"/>
<rect x="962.07" y="2759.88" width="10.38" height="6.83" fill="#fff"/>
<rect x="1838.48" y="1918.18" width="10.82" height="6.83" fill="#fff"/>
<rect x="1854.20" y="1918.18" width="10.38" height="6.83" fill="#fff"/>
<rect x="1838.48" y="2052.97" width="10.82" height="6.83" fill="#fff"/>
<rect x="1854.20" y="2052.97" width="10.38" height="6.83" fill="#fff"/>
<rect x="1838.48" y="2181.88" width="10.82" height="6.83" fill="#fff"/>
<rect x="1854.20" y="2181.88" width="10.38" height="6.83" fill="#fff"/>
<rect x="1294.80" y="2850.90" width="6.90" height="7.80" fill="#fff"/>
<rect x="1306.33" y="2850.90" width="6.46" height="7.80" fill="#fff"/>
<rect x="72.70" y="1957.33" width="7.80" height="6.30" fill="#fff"/>
<rect x="72.70" y="1947.28" width="7.80" height="5.91" fill="#fff"/>
<rect x="2045.90" y="2361.71" width="7.60" height="7.19" fill="#fff"/>
<rect x="2045.90" y="2350.11" width="7.60" height="6.73" fill="#fff"/>
<rect x="281.08" y="3982.70" width="10.82" height="6.83" fill="#fff"/>
<rect x="296.80" y="3982.70" width="10.38" height="6.83" fill="#fff"/>
<rect x="746.57" y="4277.48" width="10.82" height="6.83" fill="#fff"/>
<rect x="762.29" y="4277.48" width="10.38" height="6.83" fill="#fff"/>
<rect x="950.95" y="4277.48" width="10.82" height="6.83" fill="#fff"/>
<rect x="966.67" y="4277.48" width="10.38" height="6.83" fill="#fff"/>
<rect x="1838.48" y="3202.78" width="10.82" height="6.83" fill="#fff"/>
<rect x="1854.20" y="3202.78" width="10.38" height="6.83" fill="#fff"/>
<rect x="1298.30" y="4370.00" width="6.90" height="7.80" fill="#fff"/>
<rect x="1309.83" y="4370.00" width="6.46" height="7.80" fill="#fff"/>
<rect x="67.80" y="3463.18" width="7.80" height="6.30" fill="#fff"/>
<rect x="67.80" y="3453.13" width="7.80" height="5.91" fill="#fff"/>
<rect x="2062.30" y="3909.45" width="7.60" height="6.75" fill="#fff"/>
<rect x="2062.30" y="3898.61" width="7.60" height="6.33" fill="#fff"/>
</svg>
</body></html>
